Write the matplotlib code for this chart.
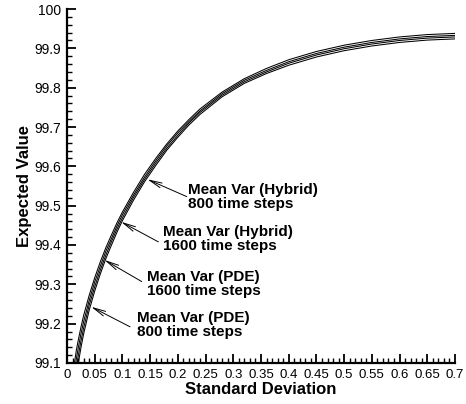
import numpy as np
import matplotlib
matplotlib.use("Agg")
import matplotlib.pyplot as plt
from matplotlib.ticker import MultipleLocator

plt.rcParams['font.family'] = ['Liberation Sans', 'DejaVu Sans']

# standard deviation grid
std = [0.012, 0.0168, 0.02, 0.025, 0.03, 0.04, 0.05, 0.06, 0.07, 0.08, 0.09, 0.10,
       0.12, 0.14, 0.16, 0.18, 0.20, 0.22, 0.24, 0.28, 0.32, 0.36, 0.40, 0.45,
       0.50, 0.55, 0.60, 0.65, 0.70]

# expected value of the four frontiers
hybrid_800 = [99.087, 99.132, 99.156, 99.190, 99.221, 99.272, 99.317, 99.357, 99.393, 99.425, 99.456, 99.484,
              99.534, 99.580, 99.620, 99.657, 99.690, 99.719, 99.746, 99.789, 99.823, 99.849, 99.871, 99.892,
              99.908, 99.920, 99.929, 99.935, 99.938]
hybrid_1600 = [99.063, 99.110, 99.136, 99.173, 99.205, 99.259, 99.306, 99.346, 99.384, 99.416, 99.448, 99.477,
               99.527, 99.573, 99.614, 99.652, 99.685, 99.714, 99.741, 99.785, 99.819, 99.844, 99.866, 99.887,
               99.903, 99.915, 99.924, 99.930, 99.933]
pde_1600 = [99.039, 99.088, 99.116, 99.155, 99.189, 99.247, 99.294, 99.336, 99.374, 99.408, 99.440, 99.469,
            99.521, 99.567, 99.608, 99.646, 99.679, 99.710, 99.737, 99.781, 99.815, 99.840, 99.862, 99.883,
            99.899, 99.911, 99.920, 99.926, 99.929]
pde_800 = [99.015, 99.066, 99.096, 99.138, 99.174, 99.234, 99.283, 99.326, 99.365, 99.399, 99.432, 99.462,
           99.514, 99.561, 99.602, 99.641, 99.674, 99.705, 99.732, 99.777, 99.811, 99.836, 99.857, 99.878,
           99.894, 99.906, 99.915, 99.921, 99.924]

labels = ["Mean Var (Hybrid)\n800 time steps",
          "Mean Var (Hybrid)\n1600 time steps",
          "Mean Var (PDE)\n1600 time steps",
          "Mean Var (PDE)\n800 time steps"]
# arrow tip on curve, arrow tail, text anchor (left, vertical centre)
tips = [(0.1449, 99.567), (0.0975, 99.459), (0.0675, 99.362), (0.0435, 99.243)]
tails = [(0.216, 99.523), (0.1647, 99.408), (0.1348, 99.307), (0.1137, 99.192)]
text_pos = [(0.2186, 99.522), (0.1737, 99.415), (0.1449, 99.302), (0.1257, 99.196)]

xtick_vals = np.arange(0, 0.701, 0.05)
xtick_labels = ['0', '0.05', '0.1', '0.15', '0.2', '0.25', '0.3', '0.35', '0.4',
                '0.45', '0.5', '0.55', '0.6', '0.65', '0.7']
ytick_vals = np.arange(99.1, 100.001, 0.1)
ytick_labels = ['99.1', '99.2', '99.3', '99.4', '99.5', '99.6', '99.7', '99.8', '99.9', '100']

fig = plt.figure(figsize=(4.66, 4.04), dpi=100)
ax = fig.add_axes([0.1438, 0.1015, 0.8326, 0.8762])

for ys in (hybrid_800, hybrid_1600, pde_1600, pde_800):
    ax.plot(std, ys, color='black', lw=0.75)

for lab, tip, tail, tp in zip(labels, tips, tails, text_pos):
    ax.annotate('', xy=tip, xytext=tail,
                arrowprops=dict(arrowstyle='->,head_length=0.9,head_width=0.18',
                                color='black', lw=0.7, shrinkA=0, shrinkB=0))
    ax.text(tp[0], tp[1], lab, fontsize=11, fontweight='bold',
            ha='left', va='center', linespacing=1.0)

ax.set_xlim(0, 0.7)
ax.set_ylim(99.1, 100)
ax.set_xticks(xtick_vals)
ax.set_xticklabels(xtick_labels)
ax.set_yticks(ytick_vals)
ax.set_yticklabels(ytick_labels)
ax.xaxis.set_minor_locator(MultipleLocator(0.01))
ax.yaxis.set_minor_locator(MultipleLocator(0.02))

ax.spines['top'].set_visible(False)
ax.spines['right'].set_visible(False)
ax.spines['left'].set_linewidth(1.6)
ax.spines['bottom'].set_linewidth(1.6)
ax.tick_params(which='major', direction='in', length=6.5, width=1.3, pad=4, color='black')
ax.tick_params(which='minor', direction='in', length=3.5, width=1.0, color='black')
ax.tick_params(axis='x', labelsize=9.5)
ax.tick_params(axis='y', labelsize=10)

ax.set_xlabel('Standard Deviation', fontsize=12, fontweight='bold', labelpad=1)
ax.set_ylabel('Expected Value', fontsize=12, fontweight='bold', labelpad=2)

fig.savefig('out.png', dpi=100)
